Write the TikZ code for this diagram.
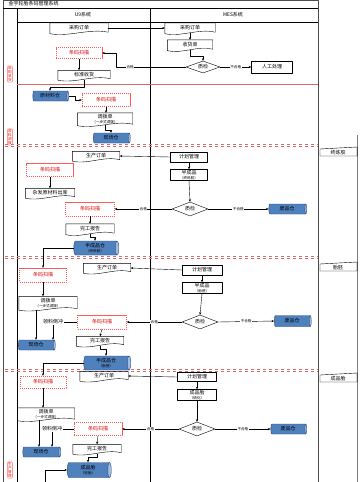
\documentclass[tikz,border=0pt]{standalone}
\usepackage{fontspec}
\setmainfont{Noto Sans CJK SC}
\usepackage{tikz}
\usetikzlibrary{arrows.meta, positioning, shapes.geometric, calc}
\definecolor{cylblue}{RGB}{79,129,189}
\definecolor{cylend}{RGB}{160,190,228}
\definecolor{cylline}{RGB}{40,70,120}
\definecolor{lanered}{RGB}{214,110,110}
\newcommand{\flowfont}{\fontsize{5}{5.5}\selectfont}
\newcommand{\subfont}{\fontsize{3.6}{4}\selectfont}
\tikzstyle{arrow} = [thin, -{Stealth[length=2.6pt, width=2.2pt]}]
\tikzstyle{box} = [draw, thin, fill=white, inner sep=0.5pt, align=center]
\tikzstyle{docbox} = [inner sep=0.5pt, align=center]
\tikzstyle{docline} = [thin]
\tikzstyle{scanbox} = [draw=red!65, dash pattern=on 1.2pt off 0.8pt, text=red!85!black,
                       fill=white, inner sep=0.5pt]
\tikzstyle{check} = [diamond, draw, thin, fill=white, inner sep=0pt, aspect=2.8]
\tikzstyle{store} = [cylinder, draw=cylline, thin, shape aspect=0.35,
                     cylinder uses custom fill, cylinder body fill=cylblue,
                     cylinder end fill=cylend, inner sep=0.5pt, align=center]
\tikzstyle{lbl} = [fill=white, inner sep=0.6pt, font=\subfont]
\tikzstyle{lanelabel} = [draw=red!60, rounded corners=1pt, text=red, align=center,
                         inner sep=0.6pt, font=\subfont]

\begin{document}
\begin{tikzpicture}[x=1pt, y=-1pt, font=\flowfont, line join=round]
    \useasboundingbox (0,0) rectangle (359,482);
    \fill[white] (0,0) rectangle (359,482);

    % Frame and columns
    \draw[gray!60!black] (3,482) -- (3,0) -- (318,0) -- (318,482);
    \draw (3,8) -- (318,8);
    \draw (17,8) -- (17,482);
    \draw (17,22) -- (318,22);
    \draw (150,8) -- (150,482);
    \draw[gray] (357,135) -- (357,482);
    \node[anchor=west] (title) at (5,4) {金宇轮胎条码管理系统};
    \node (u9) at (83,15) {U9系统};
    \node (mes) at (233,15) {MES系统};

    % Lane borders
    \draw[lanered] (17,84) -- (318,84);
    \foreach \ly in {145,257,370} {
      \draw[lanered, dashed] (5,\ly-1) -- (318,\ly-1);
      \draw[lanered, dashed] (5,\ly+1) -- (318,\ly+1);
    }
    \node[lanelabel] (lane1) at (10,74) {采\\购\\收\\货};
    \node[lanelabel] (lane2) at (10,137) {原\\料\\调\\拨};
    \node[lanelabel] (lane5) at (10,470) {生\\产\\管\\理};

    % Stage tabs
    \foreach \ty/\tl [count=\i] in {147/终炼胶, 262/胎胚, 373/成品胎} {
      \draw[thin, fill=white] (320,\ty+2) -- (357,\ty) -- (357,\ty+9) -- (320,\ty+9) -- cycle;
      \draw[gray!60!black, line width=1pt] (357,\ty) -- (357,\ty+9);
      \node (tab\i) at (338,\ty+5.5) {\tl};
    }

    % Lane 1: purchase receiving
    \node[docbox, minimum width=58pt, minimum height=10pt] (po1) at (79,28) {采购订单};
    \node[docbox, minimum width=50pt, minimum height=10pt] (po2) at (190,28) {采购订单};
    \node[docbox, minimum width=45pt, minimum height=10pt] (rcv) at (190,45) {收货单};
    \node[check, minimum width=34pt, minimum height=12pt] (qc1) at (203,67) {质检};
    \node[box, minimum width=41pt, minimum height=12pt] (manual) at (272,67) {人工处理};
    \node[scanbox, minimum width=46pt, minimum height=11pt] (scan1) at (79,53) {条码扫描};
    \node[docbox, minimum width=52pt, minimum height=9pt] (stdrcv) at (84,75) {标准收货};

    \draw[arrow] (po1.east) -- (po2.west);
    \draw[arrow] (po2.south) -- (rcv.north);
    \draw[arrow] (rcv.south) -- ++(0,6) -| (qc1.north);
    \draw[arrow] (qc1.east) -- node[lbl]{不合格} (manual.west);
    \draw[arrow] (qc1.west) -| node[lbl, pos=0.4]{合格} ([xshift=14pt]scan1.east) -- (scan1.east);
    \draw[arrow] (scan1.south) -- (scan1.south |- stdrcv.north);

    % Lane 2: raw material transfer
    \node[store, minimum width=10pt, minimum height=36pt] (rmwh) at (50,96) {原材料仓};
    \node[scanbox, minimum width=48pt, minimum height=13pt] (scan2) at (106,100) {条码扫描};
    \node[docbox, minimum width=55pt, minimum height=12pt] (xfer1) at (105,119) {调拨单\\[-1pt]{\subfont（一步式调拨）}};
    \node[store, minimum width=10pt, minimum height=37pt] (site1) at (111,138) {现场仓};

    \draw[arrow] (stdrcv.south) -- ++(0,7) -| (rmwh.north);
    \draw[arrow] (rmwh.east) -- ++(6,0) |- (scan2.west);
    \draw[arrow] (scan2.south) -- (scan2.south |- xfer1.north);
    \draw[arrow] (xfer1.south) -- ++(0,5) -| (site1.north);

    % Lane 3: final mixed compound
    \node[docbox, minimum width=47pt, minimum height=9pt] (mo1) at (96,156) {生产订单};
    \node[box, minimum width=37pt, minimum height=10pt] (plan1) at (189,157) {计划管理};
    \node[box, minimum width=37pt, minimum height=11pt] (semi1) at (189,175) {半成品\\[-1pt]{\subfont（终炼胶）}};
    \node[check, minimum width=36pt, minimum height=14pt] (qc2) at (190,209) {质检};
    \node[store, minimum width=10pt, minimum height=38pt] (scrap1) at (287,209) {废品仓};
    \node[scanbox, minimum width=49pt, minimum height=14pt] (scan3) at (90,209) {条码扫描};
    \node[docbox, minimum width=48pt, minimum height=10pt] (done1) at (90,229) {完工报告};
    \node[store, minimum width=14pt, minimum height=45pt] (semiwh1) at (95,248) {半成品仓\\[-1pt]{\subfont（终炼胶）}};
    \node[scanbox, minimum width=47pt, minimum height=13pt] (scan4) at (50,170) {条码扫描};
    \node[docbox, minimum width=49pt, minimum height=9pt] (issue) at (50,193) {杂发原材料出库};

    \draw[arrow] (plan1.west) -- (mo1.east);
    \draw[arrow] (plan1.south) -- (semi1.north);
    \draw[arrow] (semi1.south) -- (qc2.north);
    \draw[arrow] (qc2.east) -- node[lbl]{不合格} (scrap1.west);
    \draw[arrow] (qc2.west) -- node[lbl]{合格} (scan3.east);
    \draw[arrow] (scan3.south) -- (done1.north);
    \draw[arrow] (done1.south) -- ++(0,3) -| (semiwh1.north);
    \draw[arrow] (scan4.south) -- (issue.north);

    % Lane 4: green tyre
    \node[docbox, minimum width=47pt, minimum height=9pt] (mo2) at (107,268) {生产订单};
    \node[box, minimum width=40pt, minimum height=10pt] (plan2) at (202,270) {计划管理};
    \node[box, minimum width=40pt, minimum height=11pt] (semi2) at (202,288) {半成品\\[-1pt]{\subfont（胎胚）}};
    \node[check, minimum width=36pt, minimum height=14pt] (qc3) at (200,322) {质检};
    \node[store, minimum width=11pt, minimum height=37pt] (scrap2) at (292,321) {废品仓};
    \node[scanbox, minimum width=49pt, minimum height=14pt] (scan6) at (102,322) {条码扫描};
    \node[docbox, minimum width=47pt, minimum height=9pt] (done2) at (100,341) {完工报告};
    \node[store, minimum width=14pt, minimum height=47pt] (semiwh2) at (106,363) {半成品仓\\[-1pt]{\subfont（胎胚）}};
    \node[scanbox, minimum width=47pt, minimum height=14pt] (scan5) at (43,275) {条码扫描};
    \node[docbox, minimum width=58pt, minimum height=13pt] (xfer2) at (48,303) {调拨单\\[-1pt]{\subfont（一步式调拨）}};
    \node[inner sep=0.5pt] (backfl1) at (53,322) {领料倒冲};
    \node[store, minimum width=10pt, minimum height=37pt] (site2) at (36,345) {现场仓};

    \draw[arrow] (semiwh1.west) -| (scan5.north);
    \draw[arrow] (plan2.west) -- (mo2.east);
    \draw[arrow] (plan2.south) -- (semi2.north);
    \draw[arrow] (semi2.south) -- (qc3.north);
    \draw[arrow] (qc3.east) -- node[lbl]{不合格} (scrap2.west);
    \draw[arrow] (qc3.west) -- node[lbl]{合格} (scan6.east);
    \draw[arrow] (scan6.south) -- (done2.north);
    \draw[arrow] (done2.south) -- ++(0,3) -| (semiwh2.north);
    \draw[arrow] (scan5.south) -- (scan5.south |- xfer2.north);
    \draw[arrow] (xfer2.south -| site2.north) -- (site2.north);
    \draw (scan6.west) -- (backfl1.east);
    \draw[arrow] (backfl1.south) -- (backfl1.south |- site2.north);

    % Lane 5: finished tyre
    \node[docbox, minimum width=48pt, minimum height=9pt] (mo3) at (104,376) {生产订单};
    \node[box, minimum width=39pt, minimum height=9pt] (plan3) at (197,377) {计划管理};
    \node[box, minimum width=39pt, minimum height=11pt] (semi3) at (197,395) {成品胎\\[-1pt]{\subfont（硫化）}};
    \node[check, minimum width=36pt, minimum height=14pt] (qc4) at (197,429) {质检};
    \node[store, minimum width=10pt, minimum height=36pt] (scrap3) at (288,429) {废品仓};
    \node[scanbox, minimum width=48pt, minimum height=13pt] (scan8) at (98,429) {条码扫描};
    \node[docbox, minimum width=48pt, minimum height=9pt] (done3) at (97,449) {完工报告};
    \node[store, minimum width=15pt, minimum height=44pt] (fg) at (88,470) {成品胎\\[-1pt]{\subfont（轮胎）}};
    \node[scanbox, minimum width=46pt, minimum height=12pt] (scan7) at (43,382) {条码扫描};
    \node[docbox, minimum width=57pt, minimum height=12pt] (xfer3) at (46,414) {调拨单\\[-1pt]{\subfont（一步式调拨）}};
    \node[inner sep=0.5pt] (backfl2) at (52,429) {领料倒冲};
    \node[store, minimum width=10pt, minimum height=38pt] (site3) at (41,452) {现场仓};
    \coordinate (fgin) at (45,482);

    \draw[arrow] (semiwh2.west) -| (scan7.north);
    \draw[arrow] (plan3.west) -- (mo3.east);
    \draw[arrow] (plan3.south) -- (semi3.north);
    \draw[arrow] (semi3.south) -- (qc4.north);
    \draw[arrow] (qc4.east) -- node[lbl]{不合格} (scrap3.west);
    \draw[arrow] (qc4.west) -- node[lbl]{合格} (scan8.east);
    \draw[arrow] (scan8.south) -- (done3.north);
    \draw[arrow] (done3.south) -- ++(0,3) -| (fg.north);
    \draw[arrow] (scan7.south) -- (scan7.south |- xfer3.north);
    \draw[arrow] ([xshift=-7pt]xfer3.south) -- ([xshift=-7pt]xfer3.south |- site3.north);
    \draw (scan8.west) -- (backfl2.east);
    \draw[arrow] (backfl2.south) -- (backfl2.south |- site3.north);
    \draw[arrow] (fgin) |- (fg.west);

    % Document outlines
    \foreach \n in {po1, po2, rcv, stdrcv, xfer1, mo1, issue, done1, mo2, xfer2, done2, mo3, xfer3, done3}
      \draw[docline] (\n.north west) -- (\n.north east) -- ([yshift=1pt]\n.south east)
        .. controls ($(\n.south east)!0.33!(\n.south west)+(0,5pt)$)
        and ($(\n.south east)!0.67!(\n.south west)+(0,-4pt)$) .. ([yshift=-0.5pt]\n.south west) -- cycle;
\end{tikzpicture}
\end{document}
